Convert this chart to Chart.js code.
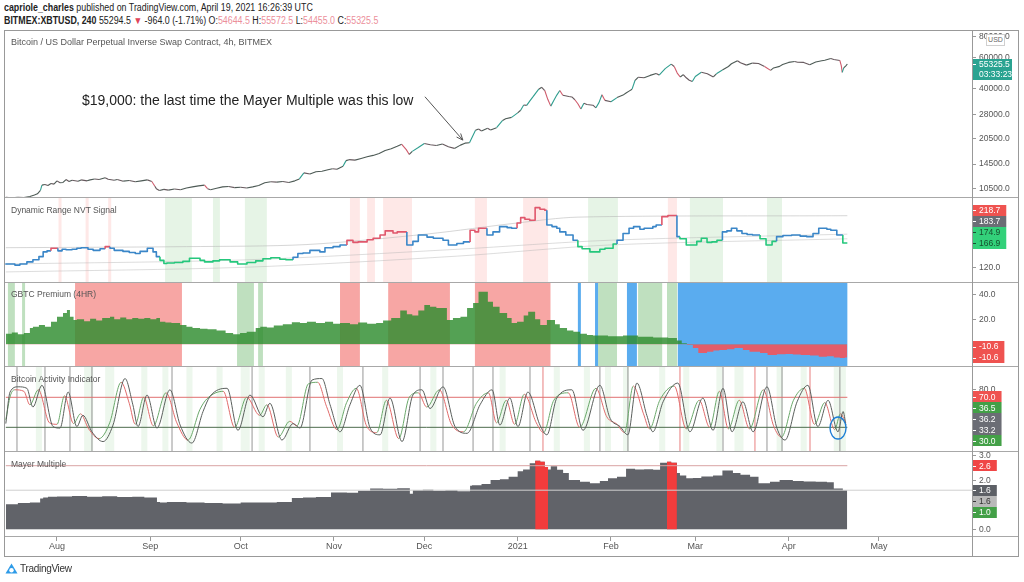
<!DOCTYPE html>
<html><head><meta charset="utf-8">
<script src="https://cdn.jsdelivr.net/npm/chart.js@4.4.0/dist/chart.umd.min.js"></script>
<style>
html,body{margin:0;padding:0;background:#fff;width:1024px;height:582px;overflow:hidden;font-family:"Liberation Sans",Arial,sans-serif;color:#222;}
.abs{position:absolute;white-space:nowrap;}
canvas{position:absolute;}
.pk{color:#ec8f9b;}
.hd{position:absolute;left:4px;font-size:10px;line-height:12px;white-space:nowrap;transform:scaleX(0.885);transform-origin:0 0;}
.ttl{position:absolute;left:11px;font-size:8.5px;color:#555;white-space:nowrap;line-height:10px;}
.sep{position:absolute;left:4px;width:1015px;height:1px;background:#a8a8a8;z-index:5;}
</style></head>
<body>
<div class="hd" style="top:2px;"><b>capriole_charles</b> published on TradingView.com, April 19, 2021 16:26:39 UTC</div>
<div class="hd" style="top:15px;"><b>BITMEX:XBTUSD, 240</b> 55294.5 <span style="color:#e0455a">▼</span> -964.0 (-1.71%) O:<span class="pk">54644.5</span> H:<span class="pk">55572.5</span> L:<span class="pk">54455.0</span> C:<span class="pk">55325.5</span></div>

<canvas id="c1" width="1014" height="168" style="left:5px;top:30px;width:1014px;height:168px"></canvas>
<canvas id="c2" width="1014" height="85" style="left:5px;top:198px;width:1014px;height:85px"></canvas>
<canvas id="c3" width="1014" height="84" style="left:5px;top:283px;width:1014px;height:84px"></canvas>
<canvas id="c4" width="1014" height="85" style="left:5px;top:367px;width:1014px;height:85px"></canvas>
<canvas id="c5" width="1014" height="105" style="left:5px;top:452px;width:1014px;height:105px"></canvas>

<div class="ttl" style="top:37px;font-size:9px">Bitcoin / US Dollar Perpetual Inverse Swap Contract, 4h, BITMEX</div>
<div class="ttl" style="top:205px">Dynamic Range NVT Signal</div>
<div class="ttl" style="top:289px">GBTC Premium (4HR)</div>
<div class="ttl" style="top:374px">Bitcoin Activity Indicator</div>
<div class="ttl" style="top:459px">Mayer Multiple</div>

<div style="position:absolute;left:4px;top:30px;width:1015px;height:527px;border:1px solid #999;box-sizing:border-box;z-index:6;pointer-events:none"></div>
<div class="sep" style="top:197px"></div>
<div class="sep" style="top:282px"></div>
<div class="sep" style="top:366px"></div>
<div class="sep" style="top:451px"></div>
<div class="sep" style="top:536px"></div>
<div style="position:absolute;left:972px;top:30px;width:1px;height:527px;background:#999;z-index:6"></div>
<div class="abs" style="left:986px;top:34px;width:17px;height:10px;border:1px solid #cfcfcf;background:#fff;font-size:7px;line-height:10px;text-align:center;color:#666;z-index:7">USD</div>

<div class="abs" style="left:5px;top:561px;height:14px;display:flex;align-items:center;font-size:10px;color:#333;letter-spacing:-0.3px">
<svg width="13" height="11" viewBox="0 0 13 11" style="margin-right:2px"><path d="M6.5 0.5 L12.5 10.5 L0.5 10.5 Z" fill="#2e9be8"/><circle cx="6.5" cy="7.2" r="2.2" fill="#fff"/></svg>TradingView</div>

<script>
const FONT = '"Liberation Sans", Arial, sans-serif';
const X_MIN = -0.27, X_MAX = 320.9;

// time axis (day 0 = 15 Jul 2020)
const monthDays = [17, 48, 78, 109, 139, 170, 201, 229, 260, 290];
const monthLabels = ['Aug', 'Sep', 'Oct', 'Nov', 'Dec', '2021', 'Feb', 'Mar', 'Apr', 'May'];

// ---- Pane 1: price (day, USD)
const priceTicks = [10500, 14500, 20500, 28000, 40000, 60000, 80000];
const priceSeries = [
 [0,9300],[2,9250],[4,9320],[6,9280],[8,9400],[9.5,9600],[10.5,9750],[11.5,10200],[12,10950],[13,11050],[14,10900],[15,11200],
 [16,11100],[17,11600],[18,11300],[19,11350],[20,11800],[21,11500],[22,11700],[24,11550],[25,11750],[27,11600],[28,11750],
 [29.5,11900],[31,11800],[33,12100],[34,11850],[36,11700],[37,11800],[39,11550],[41,11650],[43,11450],[45,11600],[47,11750],
 [48.5,11500],[49.5,10800],[50,10450],[51,10200],[52.5,10350],[54,10250],[56,10400],[58,10300],[60,10550],[62,10700],[64,10850],
 [66,10950],[67,10450],[68,10300],[70,10500],[72,10700],[74,10750],[76,10600],[78,10650],[80,10550],[82,10700],[84,10900],
 [86,11300],[88,11450],[90,11400],[92,11500],[94,11350],[96,11600],[97.5,11900],[99,12900],[101,12700],[103,13100],[105,13200],
 [107,13450],[108.5,13650],[110,13550],[112,14100],[113,15200],[114,15400],[116,15300],[118,15650],[120,16000],[122,16300],
 [124,16700],[126,17400],[128,17800],[130,18400],[131.5,18900],[133,17600],[134,16500],[135,17200],[137,18100],[139,19100],
 [141,18800],[143,18600],[145,19000],[147,18300],[149,17900],[151,18700],[152.5,19200],[154,19300],[155,21000],[156,22800],
 [157,23200],[158,22600],[160,23400],[161,22900],[163,23600],[165,26000],[166,26600],[168,27100],[170,28800],[171,29800],
 [172,32000],[173,31800],[174,33700],[175,35500],[176,37500],[177,39500],[178,40500],[179,38800],[180,34500],[181,31500],
 [182,34000],[183,36500],[184,38800],[185,36400],[187,35800],[188,35600],[189,34300],[190,32500],[191,30300],[192,32700],
 [193,32200],[195,31900],[196,30800],[197,33000],[198,36700],[199,34000],[201,33400],[203,35300],[205,36500],[206,37500],
 [207,38500],[208,39500],[209,44500],[210,46300],[212,46000],[214,47500],[216,48700],[217,47700],[219,52000],[221,55200],
 [222,53500],[223,49000],[224,46500],[225,48000],[226,46000],[227,44500],[228,43800],[229,46800],[231,49500],[233,48600],
 [235,46500],[236,48500],[238,51000],[240,53500],[241,55500],[243,57800],[244,56200],[246,54500],[248,56000],[250,55700],
 [252,53500],[254,50800],[255,52500],[257,53600],[258,55000],[260,56500],[262,57200],[263,56600],[265,56500],[267,54800],
 [269,56800],[271,57800],[272,58200],[274,59500],[275,58800],[277,58000],[277.5,54000],[277.8,49500],[278.3,52500],[279,54000],[279.5,55325.5]
];
const priceLast = 55325.5;
const priceCountdown = '03:33:23';
const annotText = '$19,000: the last time the Mayer Multiple was this low';
const annotAnchor = [25.3, 33700];
const arrowFrom = [139.2, 35700];
const arrowTo = [151.8, 20000];

// ---- Pane 2: Dynamic Range NVT (day, value, zone 1=high -1=low 0=neutral)
const nvtSeries = [
 [0,128,0],[3,127,0],[4.7,125,0],[7,127,0],[9,131,0],[11,135,0],[12.4,141,0],[13.7,150,0],[15,152,0],[17.3,157,1],[18.7,152,0],
 [20,155,0],[22,154,0],[23.6,155,0],[25,157,0],[27.3,158,0],[29,155,0],[31.3,153,0],[33,156,0],[34.6,160,1],[36,157,0],
 [38.9,153,0],[41,151,0],[43,149,0],[44.6,147,0],[47,151,0],[48.9,157,0],[50,150,0],[51.2,141,0],[52.5,134,-1],[53.5,128,-1],
 [56,129,-1],[58.8,130,-1],[61,132,-1],[64.5,138,-1],[66,134,-1],[68.8,131,-1],[71,133,-1],[74.5,135,-1],[77,131,-1],[80.1,127,-1],
 [83,130,-1],[85.4,133,-1],[88,137,-1],[91,139,-1],[93,136,-1],[95.4,135,-1],[97,140,0],[98.7,147,0],[101,148,0],[104.3,153,0],
 [106,150,0],[108.7,158,0],[111,160,0],[113.3,163,0],[115.3,172,1],[117,168,1],[120,169,1],[122,173,1],[124.3,176,1],[126,182,1],
 [128.6,190,1],[130,186,1],[133.2,188,1],[135.2,163,0],[137,170,0],[139.9,182,0],[142,178,0],[145.2,176,0],[147,172,0],
 [149.8,163,0],[152,166,0],[154.2,169,0],[155.8,191,1],[157,188,1],[159.8,195,1],[161.8,182,0],[164,188,0],[166.5,198,0],
 [168,196,0],[169.8,195,0],[171,205,1],[172.4,215,1],[174,212,1],[175.8,210,1],[177.4,234,1],[179,231,1],[179.7,229,1],
 [181.4,201,0],[183,198,0],[184,195,0],[186,188,0],[188.4,182,0],[190,172,0],[191.4,160,-1],[194,156,-1],[197.3,150,-1],
 [199,155,-1],[201.7,157,-1],[203,165,-1],[205,172,0],[207,185,0],[208.5,195,0],[210.6,198,0],[212,193,0],[214.9,195,0],
 [216,198,0],[217.9,201,0],[219.9,217,1],[222,219,1],[222.9,219,1],[223.9,179,0],[226,175,-1],[229.5,163,-1],[231,170,-1],
 [232.9,176,-1],[234.5,168,-1],[236.2,169,-1],[238,172,-1],[239.5,188,0],[241,190,0],[242.8,195,0],[244.5,190,0],[246.2,185,0],
 [248,183,0],[250.5,182,0],[252.5,175,-1],[254.5,163,-1],[256,170,-1],[258.1,179,0],[261,181,0],[263.8,182,0],[266,180,0],
 [268.1,179,0],[270,185,0],[272.7,195,0],[274,193,0],[276,191,0],[278,182,0],[279,166.9,-1],[279.5,166.9,-1]
];
const nvtUpper = [[0,158],[60,160],[100,164],[140,184],[170,205],[190,216],[279.5,218.7]];
const nvtMid = [[0,127],[80,135],[150,155],[200,172],[279.5,183.7]];
const nvtLower = [[0,112],[80,121],[150,142],[200,163],[279.5,174.9]];
const nvtHighZones = [[17.5,18.5],[26.5,27.5],[34,35],[114.3,117.6],[120,122.6],[125.3,134.9],[155.8,159.8],[171.8,180.1],[219.9,222.9]];
const nvtLowZones = [[52.9,61.8],[68.8,71.1],[79.4,86.7],[193.4,203.3],[227.2,238.2],[252.8,257.8]];
const nvtTagValues = [218.7, 183.7, 174.9, 166.9];

// ---- Pane 3: GBTC premium (%)
const gbtcSeries = [
 [0,9],[2,8.5],[4,9.5],[6,8],[8,9],[9,13],[11,14],[13,15.5],[15,14],[17,18],[19,22],[20.3,25],[21.3,27.5],[22.5,22],[23.6,19.5],
 [26,20],[28,18.5],[30,20.5],[32,19],[34.6,21],[36,22],[38,20],[40,21.5],[42,20],[44,21],[46,20.5],[48,21],[50,20],[51.2,21],
 [53,18],[55,17.5],[57.9,17],[60,15.5],[62,14],[64.5,13],[67,12.5],[70,12],[73,11],[75.5,9],[77.8,8],[80,9],[83,10],[84.5,13],
 [86.7,14],[89,13.5],[92,15],[95,16],[97.7,17.6],[100,17],[103,18],[106,17],[108.7,18],[111,16.5],[114.3,17],[117,16],[120,17.5],
 [123,16.5],[125.3,17],[128,19],[131,21],[133.2,27],[135,24],[137,23],[139,27],[140.9,31.4],[143,30],[146.5,29],[148.5,19.5],
 [151,21],[153.2,22],[155.2,29],[157,33],[160.1,42],[161.8,34],[164,30],[166.5,25],[168,21],[169.8,17],[172,18],[173.5,23],
 [175.8,26],[177.5,20],[179.7,15.5],[182.4,19.5],[184,16],[186.4,13],[188.5,11],[190.7,10],[193,8.5],[195,7.5],[200,7],[205,6.5],
 [210,7],[215,6],[220,5.5],[222.9,5],[224.5,3],[226.2,0.8],[228.2,-0.5],[230,-3],[232.9,-7],[235,-6],[237,-5],[239.5,-4.6],
 [242,-4],[244.8,-3],[247,-4.5],[250.5,-6],[253,-7],[256.1,-8.6],[259,-8],[261.4,-7.8],[264,-8.2],[267.1,-8.6],[270,-9],
 [272.7,-10],[275,-9.5],[277,-10.5],[278.7,-11],[279.5,-10.6]
];
const gbtcRedZones = [[23,58.5],[111,117.6],[127,147.5],[155.8,180.9]];
const gbtcGreenZones = [[0.7,3],[5.4,6.4],[76.8,82.4],[83.8,85.4],[196.7,203],[210,218],[219.6,223]];
const gbtcBlueZones = [[190,191],[195.7,196.7],[206.3,209.6],[223.2,279.5]];
const gbtcTagValues = [-10.6, -10.6];

// ---- Pane 4: Bitcoin Activity Indicator
const actSlow = [
 [0,35],[1.4,77],[4.1,84],[7,82],[9,57],[12,86],[15.7,31],[18,29],[20.7,77],[23.6,31],[25.6,46],[28.6,24],[32.3,11],[35.6,33],
 [39.6,95],[42.2,60],[43.9,31],[46.9,73],[50.2,29],[54.5,80],[57.9,33],[61.8,9],[65.5,51],[67.8,71],[73.5,82],[77.1,26],[81.1,73],
 [85.4,44],[87.7,62],[91.7,13],[95.4,35],[97.7,29],[101.7,93],[105,95],[107.7,60],[111,24],[114.3,60],[117.6,86],[121,29],[124.3,20],
 [127.6,69],[131.6,11],[135.2,73],[138.2,80],[140.9,55],[145.2,84],[149.2,31],[153.2,22],[157.5,60],[161.5,80],[164.1,33],[167.4,69],
 [170.1,31],[173.4,77],[177.4,33],[179.7,20],[183,69],[188,80],[191.7,26],[197.3,86],[200.7,42],[204,31],[206.6,20],[209.6,89],
 [212.9,46],[214.9,24],[218.3,64],[223.2,89],[227.2,24],[231.5,69],[234.9,26],[238.2,82],[241.2,24],[244.8,64],[248.2,24],[252.8,84],
 [256.1,29],[258.8,13],[262.8,64],[266.4,86],[269.7,31],[273.1,66],[276.4,24],[278.1,51],[279,33]
];
const actFast = [
 [0,40],[1.5,72],[3,80],[6,78],[8,60],[10.8,80],[14.5,36],[17,34],[19.5,72],[22.5,35],[24.8,48],[27.5,28],[31,15],[34.5,36],
 [38.3,90],[41,62],[43,34],[45.8,70],[49,32],[53.2,76],[56.8,36],[60.5,13],[64.5,54],[66.8,68],[72.2,78],[76,30],[80,70],[84.3,46],
 [86.7,60],[90.5,17],[94.3,38],[96.7,32],[100.5,88],[103.6,90],[106.5,58],[110,27],[113.2,63],[116.4,82],[119.8,32],[123.2,23],
 [126.4,66],[130.5,15],[134,70],[137,76],[139.8,57],[144,80],[148,34],[152,24],[156.3,62],[160.3,76],[163,36],[166.2,66],[169,34],
 [172.2,74],[176.2,36],[178.6,23],[182,66],[186.8,76],[190.6,30],[196,82],[199.6,44],[203,34],[205.5,23],[208.4,85],[211.8,48],
 [213.8,28],[217.2,66],[222,85],[226,28],[230.3,66],[233.8,30],[237,78],[240,28],[243.6,66],[247,28],[251.6,80],[255,32],[257.6,17],
 [261.6,66],[265.2,82],[268.6,34],[272,63],[275.3,27],[277.2,48],[279,36]
];
const actSignalDays = [3.7,13,21.3,28.6,55.2,81.8,101,118.6,137.6,145.2,155.2,161.8,174.1,197.3,206.6,238.2,252.8,257.8,277];
const actAlertDays = [178.4,223.9,248.8,267.1];
const actGreenZones = [[10,12],[26,29],[33,36],[45,47],[52,54],[60,62],[70,72],[78,81],[84,86],[93,95],[110,112],[125,127],[141,143],
 [164,166],[182,184],[192,194],[199,201],[205,207],[217,219],[225,227],[236,238],[242,245],[256,258],[264,266],[275,279]];
const actLevels = [70, 30];
const actTagValues = [70.0, 36.5, 36.2, 33.2, 30.0];
const actCircleAt = [276.4, 29];

// ---- Pane 5: Mayer Multiple
const mayerSeries = [
 [0,1.05],[4,1.03],[8,1.08],[11.4,1.1],[12.4,1.26],[14,1.3],[17,1.33],[22,1.34],[27,1.36],[32,1.33],[37,1.35],[42,1.32],[46,1.33],
 [50.2,1.3],[51.2,1.12],[53.5,1.1],[60,1.12],[66,1.1],[72,1.08],[78,1.06],[84,1.1],[90,1.1],[95,1.12],[98.7,1.28],[103,1.3],
 [108,1.32],[113.3,1.51],[117,1.5],[121,1.58],[125.3,1.67],[130,1.66],[134.2,1.68],[135.2,1.46],[138.5,1.6],[142,1.62],[146,1.58],
 [150,1.6],[154.2,1.56],[154.8,1.78],[158,1.8],[161,1.85],[164.1,2.02],[167,2.05],[170,2.15],[171.8,2.37],[174,2.45],[175.8,2.7],
 [177.5,2.8],[179,2.76],[180.1,2.55],[181,2.45],[183.1,2.58],[185.1,2.44],[187,2.3],[190.7,2.02],[194,1.95],[197.3,1.88],[200,1.98],
 [203,2.09],[206,2.15],[209,2.48],[212,2.45],[215,2.46],[217.3,2.44],[219.6,2.72],[221,2.76],[222.9,2.72],[223.9,2.3],[226,2.2],
 [228.2,2.09],[231,2.1],[234.9,2.16],[238,2.2],[241.5,2.4],[244,2.3],[247.2,2.23],[250,2.15],[253.8,1.88],[257,1.95],[261.4,2.02],
 [265,1.98],[269,1.96],[272.7,1.95],[275,1.93],[278,1.67],[279.5,1.6]
];
const mayerHotRanges = [[175.8,180.1],[219.6,222.9]];
const mayerHigh = 2.6, mayerMean = 1.6;
const mayerTagValues = [2.6, 1.6, 1.6, 1.0];

// ---------- helpers ----------
const pts = arr => arr.map(p => ({x: p[0], y: p[1]}));
const DECO = {};

function xScale(show) {
  return {
    type: 'linear', min: X_MIN, max: X_MAX, display: show, offset: false,
    grid: {display: show, drawOnChartArea: false, drawTicks: true, tickLength: 4, color: '#999'},
    border: {display: false},
    ticks: {autoSkip: false, maxRotation: 0, padding: 0, color: '#555', font: {family: FONT, size: 9},
      callback: v => { const i = monthDays.indexOf(v); return i >= 0 ? monthLabels[i] : ''; }},
    afterBuildTicks: s => { s.ticks = monthDays.map(v => ({value: v})); },
    afterFit: s => { if (show) s.height = 20; s.paddingLeft = 0; s.paddingRight = 0; }
  };
}
function yScale(type, min, max, ticks) {
  return {
    type, position: 'right', min, max,
    grid: {drawOnChartArea: false, drawTicks: true, tickLength: 4, color: '#999'},
    border: {display: false},
    ticks: {color: '#555', padding: 3, autoSkip: false, font: {family: FONT, size: 8.5}, callback: v => Number(v).toFixed(1)},
    afterBuildTicks: s => { s.ticks = ticks.map(v => ({value: v})); },
    afterFit: s => { s.width = 47; s.paddingTop = 0; s.paddingBottom = 0; }
  };
}

function layoutTags(items, mode, H) {
  if (mode === 'up') {
    items.sort((a, b) => b.ty - a.ty);
    items.forEach((it, i) => { it.y = i === 0 ? it.ty : Math.min(it.ty, items[i - 1].y - H); });
  } else if (mode === 'down') {
    items.sort((a, b) => a.ty - b.ty);
    items.forEach((it, i) => { it.y = i === 0 ? it.ty : Math.max(it.ty, items[i - 1].y + H); });
  } else {
    items.sort((a, b) => a.ty - b.ty);
    let cl = items.map(it => ({m: [it], c: it.ty}));
    let changed = true;
    while (changed) {
      changed = false;
      for (let i = 0; i < cl.length - 1; i++) {
        const A = cl[i], B = cl[i + 1];
        if (A.c + A.m.length * H / 2 > B.c - B.m.length * H / 2) {
          const m = A.m.concat(B.m);
          cl.splice(i, 2, {m, c: m.reduce((s, x) => s + x.ty, 0) / m.length});
          changed = true; break;
        }
      }
    }
    cl.forEach(C => C.m.forEach((it, k) => { it.y = C.c - (C.m.length - 1) * H / 2 + k * H; }));
  }
}

const decoPlugin = {
  id: 'deco',
  beforeDatasetsDraw(chart) {
    const d = DECO[chart.canvas.id]; if (!d || !d.bands) return;
    const {ctx, chartArea: a, scales: {x}} = chart;
    ctx.save(); ctx.beginPath(); ctx.rect(a.left, a.top, a.width, a.height); ctx.clip();
    d.bands.forEach(b => {
      ctx.fillStyle = b.color;
      b.ranges.forEach(r => {
        const x0 = x.getPixelForValue(r[0]), x1 = x.getPixelForValue(r[1]);
        ctx.fillRect(x0, a.top, Math.max(1, x1 - x0), a.height);
      });
    });
    ctx.restore();
  },
  afterDraw(chart) {
    const d = DECO[chart.canvas.id]; if (!d) return;
    const {ctx, chartArea: a, scales: {x, y}} = chart;
    if (d.extra) d.extra(chart);
    if (d.tags) {
      const H = 11;
      const items = d.tags.map(t => Object.assign({}, t, {ty: y.getPixelForValue(t.v)}));
      layoutTags(items, d.mode, H);
      ctx.save();
      ctx.font = '8.5px ' + FONT; ctx.textBaseline = 'middle';
      items.forEach(it => {
        const txt = it.v.toFixed(1);
        const w = ctx.measureText(txt).width + 12;
        ctx.fillStyle = it.bg; ctx.fillRect(a.right + 1, Math.round(it.y - H / 2), w, H);
        ctx.strokeStyle = it.fg; ctx.lineWidth = 1;
        ctx.beginPath(); ctx.moveTo(a.right + 1, Math.round(it.y) + 0.5); ctx.lineTo(a.right + 4, Math.round(it.y) + 0.5); ctx.stroke();
        ctx.fillStyle = it.fg; ctx.fillText(txt, a.right + 7, it.y + 0.5);
      });
      ctx.restore();
    }
  }
};

const baseOpts = (yCfg, showX) => ({
  responsive: false, animation: false, devicePixelRatio: 1,
  layout: {padding: 0},
  scales: {x: xScale(showX), y: yCfg},
  plugins: {legend: {display: false}, tooltip: {enabled: false}},
  elements: {point: {radius: 0}, line: {borderJoinStyle: 'round'}}
});

// ---------- Pane 1 ----------
DECO.c1 = {
  extra(chart) {
    const {ctx, chartArea: a, scales: {x, y}} = chart;
    ctx.save();
    ctx.font = '14px ' + FONT; ctx.fillStyle = '#222'; ctx.textBaseline = 'middle';
    ctx.fillText(annotText, x.getPixelForValue(annotAnchor[0]), y.getPixelForValue(annotAnchor[1]));
    const x0 = x.getPixelForValue(arrowFrom[0]), y0 = y.getPixelForValue(arrowFrom[1]);
    const x1 = x.getPixelForValue(arrowTo[0]), y1 = y.getPixelForValue(arrowTo[1]);
    ctx.strokeStyle = '#555'; ctx.lineWidth = 1;
    ctx.beginPath(); ctx.moveTo(x0, y0); ctx.lineTo(x1, y1); ctx.stroke();
    const ang = Math.atan2(y1 - y0, x1 - x0);
    ctx.beginPath();
    ctx.moveTo(x1 - 7 * Math.cos(ang - 0.4), y1 - 7 * Math.sin(ang - 0.4));
    ctx.lineTo(x1, y1);
    ctx.lineTo(x1 - 7 * Math.cos(ang + 0.4), y1 - 7 * Math.sin(ang + 0.4));
    ctx.stroke();
    // last price tag
    const py = y.getPixelForValue(priceLast);
    ctx.fillStyle = '#2aa391';
    ctx.fillRect(a.right + 1, Math.round(py - 5), 39, 21);
    ctx.fillStyle = '#fff'; ctx.font = '8.5px ' + FONT;
    ctx.fillText(priceLast.toFixed(1), a.right + 7, py + 0.5);
    ctx.fillText(priceCountdown, a.right + 7, py + 10.5);
    ctx.strokeStyle = '#fff';
    ctx.beginPath(); ctx.moveTo(a.right + 1, Math.round(py) + 0.5); ctx.lineTo(a.right + 4, Math.round(py) + 0.5); ctx.stroke();
    ctx.restore();
  }
};
new Chart(document.getElementById('c1'), {
  type: 'line',
  data: {datasets: [{
    data: pts(priceSeries), borderWidth: 1.1, borderColor: '#4d5a55', tension: 0, pointRadius: 0,
    segment: {borderColor: c => { const p = c.p0.parsed.y, q = c.p1.parsed.y;
      if (q < p * 0.955) return '#cf5b6c'; if (q > p * 1.05) return '#2f9e8f'; return q < p ? '#66585d' : '#4d5a55'; }}
  }]},
  options: baseOpts(yScale('logarithmic', 9223, 87150, priceTicks), false),
  plugins: [decoPlugin]
});

// ---------- Pane 2 ----------
DECO.c2 = {
  bands: [{color: 'rgba(244,67,54,0.12)', ranges: nvtHighZones}, {color: 'rgba(76,175,80,0.14)', ranges: nvtLowZones}],
  mode: 'up',
  tags: [{v: nvtTagValues[0], bg: '#ef5350', fg: '#fff'}, {v: nvtTagValues[1], bg: '#6b6d75', fg: '#fff'},
         {v: nvtTagValues[2], bg: '#33d17a', fg: '#17502f'}, {v: nvtTagValues[3], bg: '#33d17a', fg: '#17502f'}]
};
const zoneColor = z => z > 0 ? '#e0576c' : (z < 0 ? '#25c77c' : '#3a86c8');
new Chart(document.getElementById('c2'), {
  type: 'line',
  data: {datasets: [
    {data: pts(nvtSeries), borderWidth: 1.6, borderColor: '#3a86c8', stepped: 'after', pointRadius: 0,
     segment: {borderColor: c => zoneColor(nvtSeries[c.p1DataIndex][2])}},
    {data: pts(nvtUpper), borderWidth: 1, borderColor: 'rgba(180,180,180,0.55)', pointRadius: 0, tension: 0.3},
    {data: pts(nvtMid), borderWidth: 1, borderColor: 'rgba(180,180,180,0.45)', pointRadius: 0, tension: 0.3},
    {data: pts(nvtLower), borderWidth: 1, borderColor: 'rgba(180,180,180,0.45)', pointRadius: 0, tension: 0.3}
  ]},
  options: baseOpts(yScale('linear', 91, 252.3, [120]), false),
  plugins: [decoPlugin]
});

// ---------- Pane 3 ----------
DECO.c3 = {
  bands: [{color: '#f7a6a4', ranges: gbtcRedZones}, {color: '#bfe0bf', ranges: gbtcGreenZones}, {color: '#5aacef', ranges: gbtcBlueZones}],
  mode: 'up',
  tags: gbtcTagValues.map(v => ({v, bg: '#ef5350', fg: '#fff'}))
};
new Chart(document.getElementById('c3'), {
  type: 'line',
  data: {datasets: [{
    data: pts(gbtcSeries), borderWidth: 0, stepped: 'after', pointRadius: 0,
    fill: {target: 'origin', above: 'rgba(46,140,46,0.82)', below: '#e35d6a'}
  }]},
  options: baseOpts(yScale('linear', -18.2, 49, [20, 40]), false),
  plugins: [decoPlugin]
});

// ---------- Pane 4 ----------
DECO.c4 = {
  bands: [{color: 'rgba(76,175,80,0.10)', ranges: actGreenZones}],
  mode: 'center',
  tags: [{v: actTagValues[0], bg: '#ef5350', fg: '#fff'}, {v: actTagValues[1], bg: '#43a047', fg: '#fff'},
         {v: actTagValues[2], bg: '#6b6d75', fg: '#fff'}, {v: actTagValues[3], bg: '#6b6d75', fg: '#fff'},
         {v: actTagValues[4], bg: '#43a047', fg: '#fff'}],
  extra(chart) {
    const {ctx, scales: {x, y}} = chart;
    ctx.save(); ctx.strokeStyle = '#1e7fd6'; ctx.lineWidth = 1.4;
    ctx.beginPath(); ctx.ellipse(x.getPixelForValue(actCircleAt[0]), y.getPixelForValue(actCircleAt[1]), 8, 11, 0, 0, Math.PI * 2); ctx.stroke();
    ctx.restore();
  }
};
const lastDay = priceSeries[priceSeries.length - 1][0];
new Chart(document.getElementById('c4'), {
  type: 'line',
  data: {datasets: [
    {type: 'bar', data: actSignalDays.map(d => ({x: d, y: [-5, 120]})), backgroundColor: 'rgba(130,130,130,0.5)', barThickness: 1, grouped: false, order: 10},
    {type: 'bar', data: actAlertDays.map(d => ({x: d, y: [-5, 120]})), backgroundColor: 'rgba(229,115,115,0.55)', barThickness: 1, grouped: false, order: 10},
    {data: [{x: 0, y: actLevels[0]}, {x: lastDay, y: actLevels[0]}], borderColor: '#e07070', borderWidth: 1, pointRadius: 0, order: 5},
    {data: [{x: 0, y: actLevels[1]}, {x: lastDay, y: actLevels[1]}], borderColor: '#4d6b4d', borderWidth: 1, pointRadius: 0, order: 5},
    {data: pts(actFast), borderWidth: 1, borderColor: '#6aa86a', pointRadius: 0, cubicInterpolationMode: 'monotone', order: 1,
     segment: {borderColor: c => c.p1.parsed.y < c.p0.parsed.y ? '#e06a6a' : '#6aa86a'}},
    {data: pts(actSlow), borderWidth: 1, borderColor: '#5a5f5c', pointRadius: 0, cubicInterpolationMode: 'monotone', order: 0}
  ]},
  options: baseOpts(yScale('linear', -2.9, 110.4, [80]), false),
  plugins: [decoPlugin]
});

// ---------- Pane 5 ----------
DECO.c5 = {
  mode: 'down',
  tags: [{v: mayerTagValues[0], bg: '#f04646', fg: '#fff'}, {v: mayerTagValues[1], bg: '#5d6066', fg: '#fff'},
         {v: mayerTagValues[2], bg: '#b9b9b9', fg: '#333'}, {v: mayerTagValues[3], bg: '#43a047', fg: '#fff'}]
};
const mayerDatasets = [
  {data: pts(mayerSeries), borderWidth: 0, stepped: 'after', pointRadius: 0, fill: {target: 'origin', above: '#616369'}, order: 3}
];
mayerHotRanges.forEach(r => {
  mayerDatasets.push({data: pts(mayerSeries.filter(p => p[0] >= r[0] && p[0] <= r[1])), borderWidth: 0, stepped: 'after',
    pointRadius: 0, fill: {target: 'origin', above: '#f23c3c'}, order: 2});
});
mayerDatasets.push({data: [{x: 0, y: mayerHigh}, {x: lastDay, y: mayerHigh}], borderColor: '#d9a3a3', borderWidth: 1, pointRadius: 0, order: 1});
mayerDatasets.push({data: [{x: 0, y: mayerMean}, {x: X_MAX, y: mayerMean}], borderColor: '#cfcfcf', borderWidth: 1, pointRadius: 0, order: 1});
new Chart(document.getElementById('c5'), {
  type: 'line',
  data: {datasets: mayerDatasets},
  options: baseOpts(yScale('linear', -0.31, 3.16, [0, 1, 2, 3]), true),
  plugins: [decoPlugin]
});
</script>
</body></html>
